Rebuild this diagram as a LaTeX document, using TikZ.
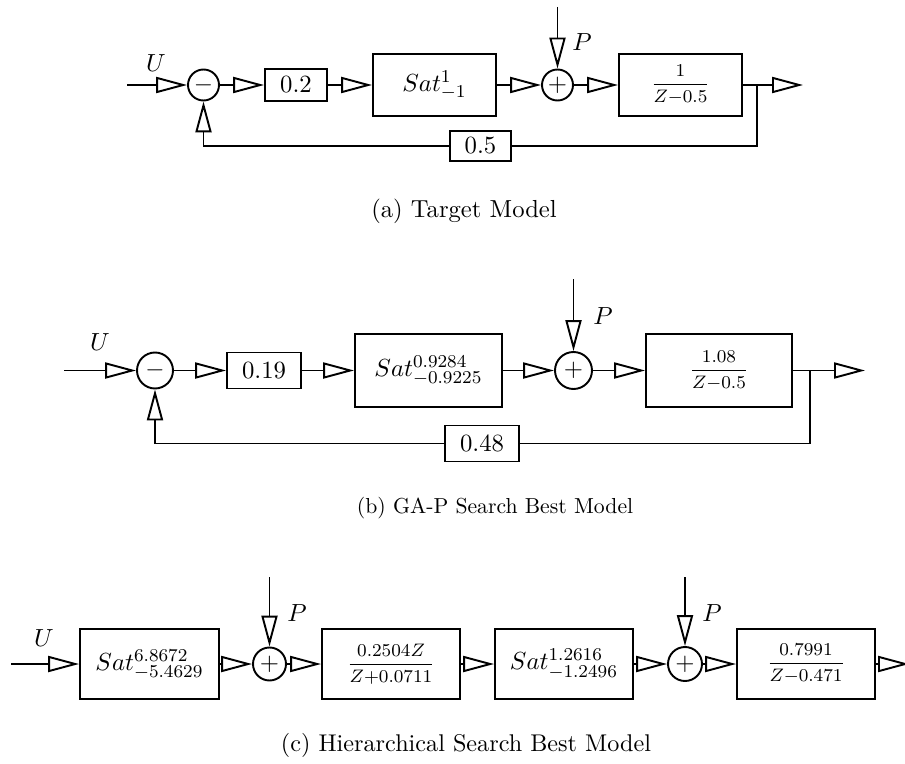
\documentclass[tikz,border=0pt]{standalone}
\usepackage{fontspec}
\usetikzlibrary{arrows.meta}
\newcommand\nums[1]{\mbox{\fontsize{8}{8}\selectfont\addfontfeature{LetterSpace=6}#1}}
\newcommand\satlbl[2]{$Sat^{\nums{#1}}_{\nums{#2}}$}
\newcommand\tfrac[2]{\mbox{\fontsize{8.5}{9}\selectfont$\displaystyle\frac{#1}{#2}$}}
\tikzset{
 blk/.style 2 args={draw, line width=0.85pt, minimum width={#1*0.4425pt}, minimum height={#2*0.4425pt}, inner sep=0pt, font=\fontsize{10.5}{12}\selectfont},
 sumn/.style={draw, circle, line width=0.85pt, minimum size={#1*0.4425pt}, inner sep=0pt, font=\fontsize{10.5}{12}\selectfont},
 arr/.style={-{Triangle[open, length=13.7pt, width=7.1pt]}},
 wire/.style={line width=0.85pt},
 lbl/.style={inner sep=0pt, font=\fontsize{10.5}{12}\selectfont},
 capt/.style={inner sep=0pt, font=\fontsize{#1}{12}\selectfont},
}
\begin{document}
\begin{tikzpicture}[x=0.4425pt, y=-0.4425pt]
\useasboundingbox (0,0) rectangle (905,764);
% ---------- (a) ----------
\coordinate (a-in) at (127,85);
\node[sumn=31] (a-s1) at (203.5,85) {$-$};
\node[blk={62}{32}] (a-g) at (296,85) {$0.2$};
\node[blk={123}{62}] (a-sat) at (434.5,85) {\satlbl{1}{$-$1}};
\node[sumn=31] (a-s2) at (557.5,85) {$+$};
\node[blk={123}{62}] (a-tf) at (680.5,85) {\tfrac{1}{Z{-}0.5}};
\coordinate (a-br) at (757,85);
\coordinate (a-out) at (803,85);
\coordinate (a-p) at (557.5,7);
\node[blk={61}{30}] (a-fb) at (480.5,146) {$0.5$};
\node[lbl] (a-u) at (156,63) {$U$};
\node[lbl] (a-pl) at (582,42) {$P$};
\draw[wire,arr] (a-in) -- (a-s1);
\draw[wire,arr] (a-s1) -- (a-g);
\draw[wire,arr] (a-g) -- (a-sat);
\draw[wire,arr] (a-sat) -- (a-s2);
\draw[wire,arr] (a-p) -- (a-s2);
\draw[wire,arr] (a-s2) -- (a-tf);
\draw[wire] (a-tf) -- (a-br);
\draw[wire,arr] (a-br) -- (a-out);
\draw[wire] (a-br) |- (a-fb);
\draw[wire,arr] (a-fb) -| (a-s1);
\node[capt=10.9] (a-cap) at (464,211) {(a) Target Model};
% ---------- (b) ----------
\coordinate (b-in) at (64,370.5);
\node[sumn=36] (b-s1) at (155,370.5) {$-$};
\node[blk={74}{36}] (b-g) at (264,370.5) {$0.19$};
\node[blk={147}{73}] (b-sat) at (428.5,370.5) {\satlbl{0.9284}{$-$0.9225}};
\node[sumn=37] (b-s2) at (573.5,370.5) {$+$};
\node[blk={146}{73}] (b-tf) at (719,370.5) {\tfrac{1.08}{Z{-}0.5}};
\coordinate (b-br) at (810,370.5);
\coordinate (b-out) at (865,370.5);
\coordinate (b-p) at (573.5,279);
\node[blk={74}{36}] (b-fb) at (482,443.5) {$0.48$};
\node[lbl] (b-u) at (100,342) {$U$};
\node[lbl] (b-pl) at (603,316) {$P$};
\draw[wire,arr] (b-in) -- (b-s1);
\draw[wire,arr] (b-s1) -- (b-g);
\draw[wire,arr] (b-g) -- (b-sat);
\draw[wire,arr] (b-sat) -- (b-s2);
\draw[wire,arr] (b-p) -- (b-s2);
\draw[wire,arr] (b-s2) -- (b-tf);
\draw[wire] (b-tf) -- (b-br);
\draw[wire,arr] (b-br) -- (b-out);
\draw[wire] (b-br) |- (b-fb);
\draw[wire,arr] (b-fb) -| (b-s1);
\node[inner sep=0pt, font=\fontsize{9.6}{12}\selectfont\addfontfeature{LetterSpace=-4.5}] (b-cap) at (495,508) {(b) GA-P Search Best Model};
% ---------- (c) ----------
\coordinate (c-in) at (11,664);
\node[blk={139}{70}] (c-sat1) at (149.5,664) {\satlbl{6.8672}{$-$5.4629}};
\node[sumn=33] (c-s1) at (269.5,664) {$+$};
\node[blk={138}{70}] (c-tf1) at (391,664) {\tfrac{0.2504Z}{Z{+}0.0711}};
\node[blk={138}{70}] (c-sat2) at (564,664) {\satlbl{1.2616}{$-$1.2496}};
\node[sumn=34] (c-s2) at (685,664) {$+$};
\node[blk={138}{70}] (c-tf2) at (806,664) {\tfrac{0.7991}{Z{-}0.471}};
\coordinate (c-out) at (909,664);
\coordinate (c-p1) at (269.5,577);
\coordinate (c-p2) at (685,577);
\node[lbl] (c-u) at (44,638) {$U$};
\node[lbl] (c-pl1) at (297,613) {$P$};
\node[lbl] (c-pl2) at (712,613) {$P$};
\draw[wire,arr] (c-in) -- (c-sat1);
\draw[wire,arr] (c-sat1) -- (c-s1);
\draw[wire,arr] (c-p1) -- (c-s1);
\draw[wire,arr] (c-s1) -- (c-tf1);
\draw[wire,arr] (c-tf1) -- (c-sat2);
\draw[wire,arr] (c-sat2) -- (c-s2);
\draw[wire,arr] (c-p2) -- (c-s2);
\draw[wire,arr] (c-s2) -- (c-tf2);
\draw[wire,arr] (c-tf2) -- (c-out);
\node[capt=10.7] (c-cap) at (466,745) {(c) Hierarchical Search Best Model};
\end{tikzpicture}
\end{document}
